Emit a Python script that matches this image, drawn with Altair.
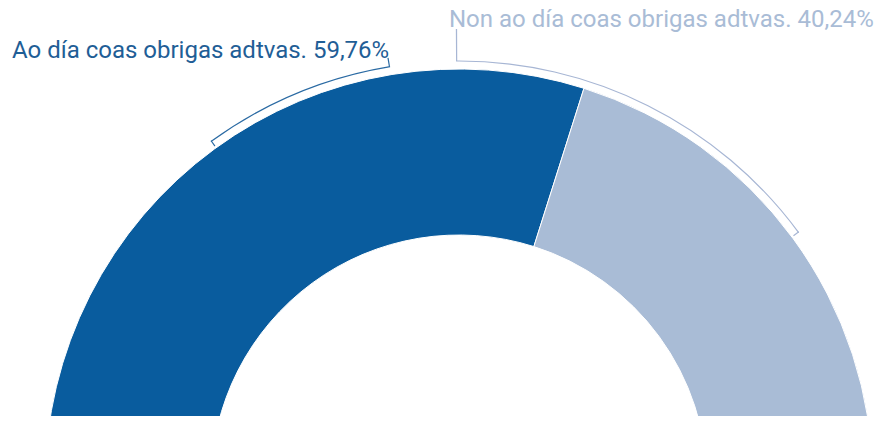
import altair as alt
import pandas as pd
import numpy as np

# ---- data ----
categories = ["Ao día coas obrigas adtvas.", "Non ao día coas obrigas adtvas."]
shares = [59.76, 40.24]
share_labels = ["59,76%", "40,24%"]
colors = ["#095C9E", "#A9BCD6"]
text_colors = ["#1F5E96", "#A9BCD6"]
bracket_colors = ["#2A6AA3", "#A7B6D4"]

# bracket annotation geometry (degrees clockwise from 12 o'clock, radii in px)
bracket_start = [-36.0, -0.4]
bracket_end = [-9.4, 53.6]
connector_top = [431.0, 454.0]

# ---- layout constants ----
CX, CY = 451, 475
R_OUT, R_IN = 414, 248
R_BR = 422.0
LW = 1.2

df = pd.DataFrame({"cat": categories, "share": shares, "order": [0, 1]})

donut = alt.Chart(df).mark_arc(radius=R_OUT, radius2=R_IN, stroke="white", strokeWidth=1).encode(
    theta=alt.Theta("share:Q", stack=True, scale=alt.Scale(range=[-np.pi / 2, np.pi / 2])),
    color=alt.Color("cat:N", scale=alt.Scale(domain=categories, range=colors), legend=None),
    order=alt.Order("order:Q"),
    x=alt.value(CX),
    y=alt.value(CY),
)

rows = []
for i in range(2):
    a0 = np.radians(bracket_start[i])
    a1 = np.radians(bracket_end[i])
    d = LW / R_BR
    c = bracket_colors[i]
    rows.append(dict(t0=a0, t1=a1, r0=R_BR - LW / 2, r1=R_BR + LW / 2, c=c))
    if i == 0:
        rows.append(dict(t0=a0, t1=a0 + d, r0=R_OUT + 2, r1=R_BR + LW / 2, c=c))
        rows.append(dict(t0=a1 - d, t1=a1, r0=R_BR, r1=connector_top[i], c=c))
    else:
        rows.append(dict(t0=a1 - d, t1=a1, r0=R_OUT + 2, r1=R_BR + LW / 2, c=c))
        rows.append(dict(t0=a0, t1=a0 + d, r0=R_BR, r1=connector_top[i], c=c))
bdf = pd.DataFrame(rows)

brackets = alt.Chart(bdf).mark_arc().encode(
    theta=alt.Theta("t0:Q", scale=None),
    theta2="t1:Q",
    radius=alt.Radius("r1:Q", scale=None),
    radius2="r0:Q",
    color=alt.Color("c:N", scale=None),
    x=alt.value(CX),
    y=alt.value(CY),
)

ldf = pd.DataFrame({
    "txt": [f"{categories[i]} {share_labels[i]}" for i in range(2)],
    "tc": text_colors,
    "px": [4, 441],
    "py": [50, 19],
})
labels = alt.Chart(ldf).mark_text(
    align="left", baseline="alphabetic", font="Roboto", fontSize=24
).encode(
    text="txt:N",
    x=alt.X("px:Q", scale=None),
    y=alt.Y("py:Q", scale=None),
    color=alt.Color("tc:N", scale=None),
)

chart = alt.layer(donut, brackets, labels).resolve_scale(
    theta="independent", color="independent"
).properties(
    width=872, height=408, padding=0, autosize=alt.AutoSizeParams(type="none")
).configure_view(stroke=None)

chart.save("out.html", embed_options={"renderer": "svg", "actions": False})
